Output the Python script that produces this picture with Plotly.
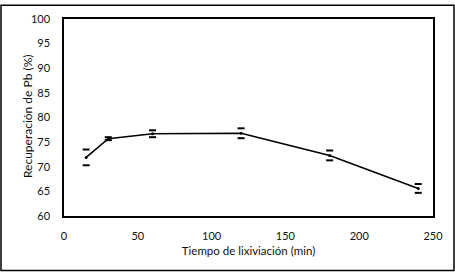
import plotly.graph_objects as go

time_min = [15, 30, 60, 120, 180, 240]
recovery = [71.9, 75.7, 76.7, 76.8, 72.3, 65.6]
err = [1.6, 0.3, 0.7, 1.0, 1.0, 0.9]

x_ticks = [0, 50, 100, 150, 200, 250]
y_ticks = [60, 65, 70, 75, 80, 85, 90, 95, 100]
x_title = "Tiempo de lixiviación (min)"
y_title = "Recuperación de Pb (%)"

W, H = 455, 273
L, R, T, B = 64, 22, 15, 57
pw, ph = W - L - R, H - T - B

fig = go.Figure()
fig.add_trace(go.Scatter(
    x=time_min, y=recovery, mode="lines+markers",
    line=dict(color="black", width=1.6),
    marker=dict(size=3, color="black"),
    showlegend=False))
fig.add_trace(go.Scatter(
    x=time_min + time_min,
    y=[v + e for v, e in zip(recovery, err)] + [v - e for v, e in zip(recovery, err)],
    mode="markers",
    marker=dict(symbol="line-ew", size=5, line=dict(color="black", width=2)),
    showlegend=False))

def px_x(p):
    return (p - L) / pw

def px_y(p):
    return (H - B - p) / ph

fig.add_shape(type="rect", xref="paper", yref="paper",
              x0=px_x(1), x1=px_x(454), y0=px_y(271.5), y1=px_y(1),
              line=dict(color="black", width=1.5), layer="above")

fig.add_annotation(text=y_title, xref="paper", yref="paper",
                   x=px_x(27), y=px_y(115), textangle=-90, showarrow=False,
                   xanchor="center", yanchor="middle",
                   font=dict(size=12, color="#111"))

font = dict(family="Lato, Open Sans, sans-serif", size=11, color="#111")
fig.update_layout(
    width=W, height=H,
    margin=dict(l=L, r=R, t=T, b=B),
    paper_bgcolor="white", plot_bgcolor="white",
    font=font,
    xaxis=dict(range=[0, 250], tickvals=x_ticks, showgrid=False, zeroline=False,
               showline=True, linecolor="black", linewidth=1.5, mirror=True,
               ticks="", ticklabelstandoff=9,
               title=dict(text=x_title, standoff=6,
                          font=dict(size=11.5, color="#111"))),
    yaxis=dict(range=[60, 100], tickvals=y_ticks, showgrid=False, zeroline=False,
               showline=True, linecolor="black", linewidth=1.5, mirror=True,
               ticks="", ticklabelstandoff=10),
)
fig.write_html("out.html", config={"displayModeBar": False},
               post_script="document.body.style.margin='0';")
